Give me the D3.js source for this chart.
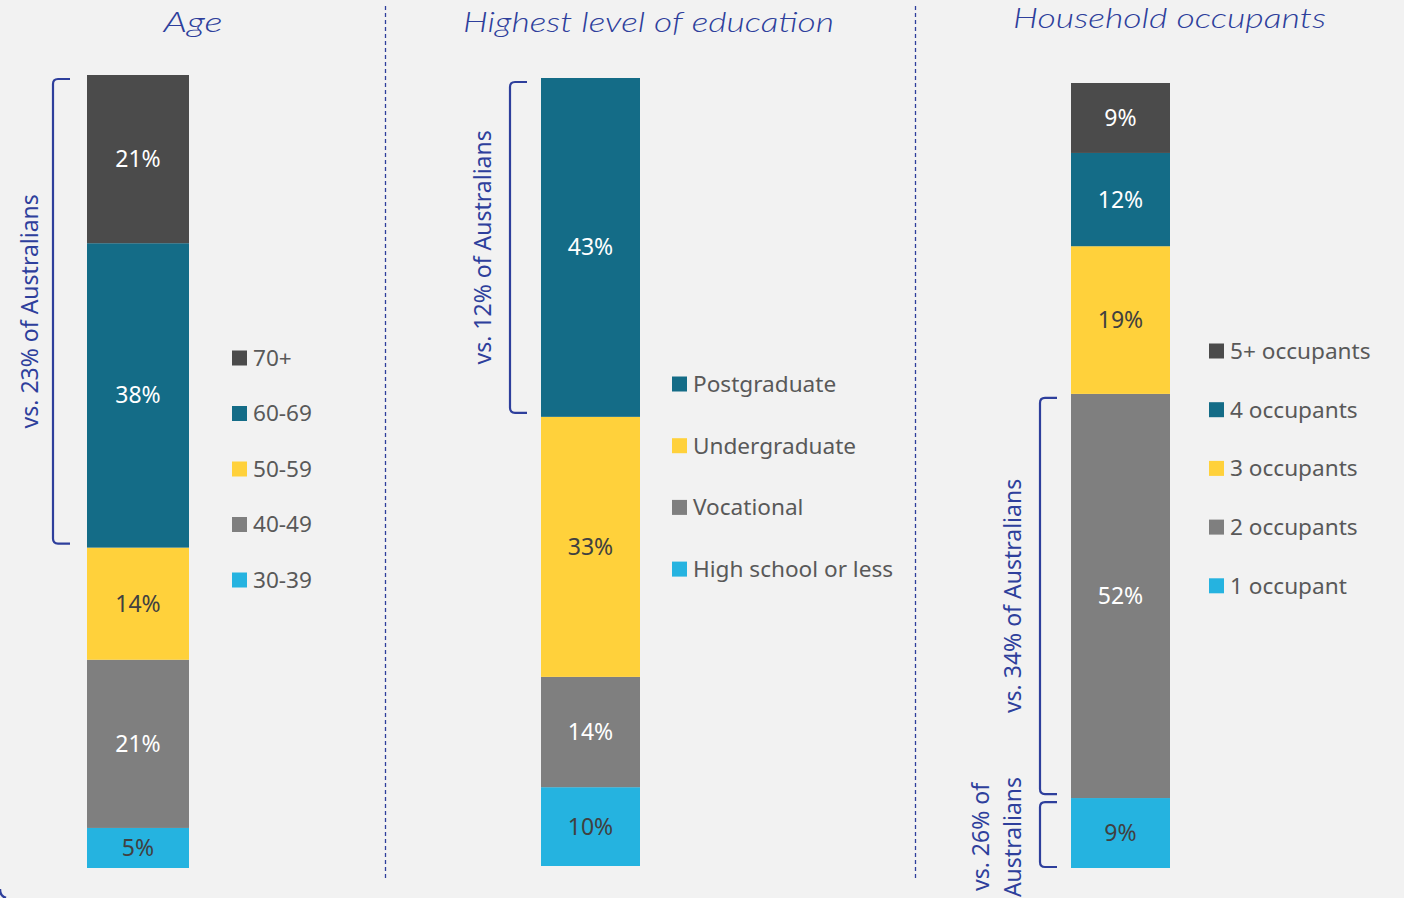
<!DOCTYPE html>
<html>
<head>
<meta charset="utf-8">
<script src="https://cdn.jsdelivr.net/npm/d3@7"></script>
<style>
  body { margin: 0; background: #f2f2f2; }
  svg { display: block; }
</style>
</head>
<body>
<svg id="chart" width="1404" height="898"></svg>
<script>
// ---- Data (bottom segment first) ----
const panelTitles = ["Age", "Highest level of education", "Household occupants"];

const ageCategories = ["30-39", "40-49", "50-59", "60-69", "70+"];
const ageValues = [5, 21, 14, 38, 21];

const eduCategories = ["High school or less", "Vocational", "Undergraduate", "Postgraduate"];
const eduValues = [10, 14, 33, 43];

const occCategories = ["1 occupant", "2 occupants", "3 occupants", "4 occupants", "5+ occupants"];
const occValues = [9, 52, 19, 12, 9];

// Brackets: which segments (by index, bottom = 0) they span, and their note
const ageBrackets = [{ from: 3, to: 4, text: ["vs. 23% of Australians"] }];
const eduBrackets = [{ from: 3, to: 3, text: ["vs. 12% of Australians"] }];
const occBrackets = [
  { from: 1, to: 1, text: ["vs. 34% of Australians"] },
  { from: 0, to: 0, text: ["vs. 26% of", "Australians"] }
];

// ---- Styling ----
const C = { light: "#25b3e0", grey: "#7f7f7f", yellow: "#ffd13b", teal: "#146c87", dark: "#4b4b4b" };
const ageColors = [C.light, C.grey, C.yellow, C.teal, C.dark];
const eduColors = [C.light, C.grey, C.yellow, C.teal];
const occColors = [C.light, C.grey, C.yellow, C.teal, C.dark];
const accent = "#2e3f9c";
const bodyFont = "'Noto Sans', 'Open Sans', sans-serif";

const panels = [
  { title: panelTitles[0], cats: ageCategories, vals: ageValues, colors: ageColors, brackets: ageBrackets,
    titleX: 193, titleY: 32, titleW: 59,
    barX: 87, barW: 102, top: 75, bottom: 868,
    legX: 232, legY: 358, legStep: 55.5, brX: 53, brEnd: 70, noteX: 30 },
  { title: panelTitles[1], cats: eduCategories, vals: eduValues, colors: eduColors, brackets: eduBrackets,
    titleX: 648.5, titleY: 32, titleW: 371,
    barX: 541, barW: 99, top: 78, bottom: 866,
    legX: 672, legY: 384, legStep: 61.7, brX: 510, brEnd: 527, noteX: 483 },
  { title: panelTitles[2], cats: occCategories, vals: occValues, colors: occColors, brackets: occBrackets,
    titleX: 1169.5, titleY: 28, titleW: 313,
    barX: 1071, barW: 99, top: 83, bottom: 868,
    legX: 1209, legY: 351, legStep: 58.7, brX: 1040, brEnd: 1057, noteX: 1013 }
];

const svg = d3.select("#chart");
svg.append("rect").attr("width", 1404).attr("height", 898).attr("fill", "#f2f2f2");

// dashed separators between panels
[385.5, 915.5].forEach(x => {
  svg.append("line")
    .attr("x1", x).attr("x2", x).attr("y1", 6).attr("y2", 880)
    .attr("stroke", accent).attr("stroke-width", 1.3)
    .attr("stroke-dasharray", "4,3");
});

// small frame corner at bottom left
svg.append("path")
  .attr("d", "M0,889 A9,9 0 0 0 6,898")
  .attr("fill", "none").attr("stroke", accent).attr("stroke-width", 2.5);

const darkText = c => (c === C.yellow || c === C.light);

panels.forEach(p => {
  const g = svg.append("g");
  const total = d3.sum(p.vals);
  const y = d3.scaleLinear().domain([0, total]).range([p.bottom, p.top]);

  const stacked = [];
  let acc = 0;
  p.vals.forEach((v, i) => { stacked.push({ cat: p.cats[i], v, y0: acc, y1: acc + v, color: p.colors[i] }); acc += v; });

  // title
  g.append("text")
    .attr("x", p.titleX).attr("y", p.titleY)
    .attr("text-anchor", "middle")
    .attr("textLength", p.titleW).attr("lengthAdjust", "spacingAndGlyphs")
    .style("font-family", "Lato, 'DejaVu Sans', sans-serif")
    .style("font-style", "italic")
    .style("font-weight", "300")
    .style("font-size", "28px")
    .attr("fill", accent)
    .text(p.title);

  // stacked segments
  g.selectAll("rect.seg").data(stacked).join("rect")
    .attr("class", "seg")
    .attr("x", p.barX).attr("width", p.barW)
    .attr("y", d => y(d.y1))
    .attr("height", d => y(d.y0) - y(d.y1))
    .attr("fill", d => d.color);

  // value labels
  g.selectAll("text.val").data(stacked).join("text")
    .attr("class", "val")
    .attr("x", p.barX + p.barW / 2)
    .attr("y", d => (y(d.y0) + y(d.y1)) / 2)
    .attr("dy", "0.35em")
    .attr("text-anchor", "middle")
    .style("font-family", bodyFont)
    .style("font-size", "23px")
    .attr("fill", d => darkText(d.color) ? "#404040" : "#ffffff")
    .text(d => d.v + "%");

  // legend (top category first)
  const leg = stacked.slice().reverse();
  const lg = g.selectAll("g.leg").data(leg).join("g")
    .attr("class", "leg")
    .attr("transform", (d, i) => `translate(${p.legX},${p.legY + i * p.legStep})`);
  lg.append("rect").attr("x", 0).attr("y", -7.5).attr("width", 15).attr("height", 15)
    .attr("fill", d => d.color);
  lg.append("text").attr("x", 21).attr("y", 0).attr("dy", "0.35em")
    .style("font-family", bodyFont).style("font-size", "22.6px")
    .attr("fill", "#595959")
    .text(d => d.cat);

  // brackets with rotated notes
  p.brackets.forEach(b => {
    const yTop = y(stacked[b.to].y1) + 4;
    const yBot = y(stacked[b.from].y0) - (b.from === 0 ? 1 : 4);
    const r = 5;
    g.append("path")
      .attr("d", `M${p.brEnd},${yTop} L${p.brX + r},${yTop} Q${p.brX},${yTop} ${p.brX},${yTop + r}
                  L${p.brX},${yBot - r} Q${p.brX},${yBot} ${p.brX + r},${yBot} L${p.brEnd},${yBot}`)
      .attr("fill", "none").attr("stroke", accent).attr("stroke-width", 2.2);
    const cy = (yTop + yBot) / 2;
    const lines = b.text;
    const lineGap = 32;
    lines.forEach((t, i) => {
      const cx = p.noteX - (lines.length - 1 - i) * lineGap;
      g.append("text")
        .attr("transform", `translate(${cx},${lines.length > 1 ? 837 : cy}) rotate(-90)`)
        .attr("text-anchor", "middle")
        .attr("dy", "0.35em")
        .style("font-family", bodyFont).style("font-size", "23px")
        .attr("fill", accent)
        .text(t);
    });
  });
});
</script>
</body>
</html>
